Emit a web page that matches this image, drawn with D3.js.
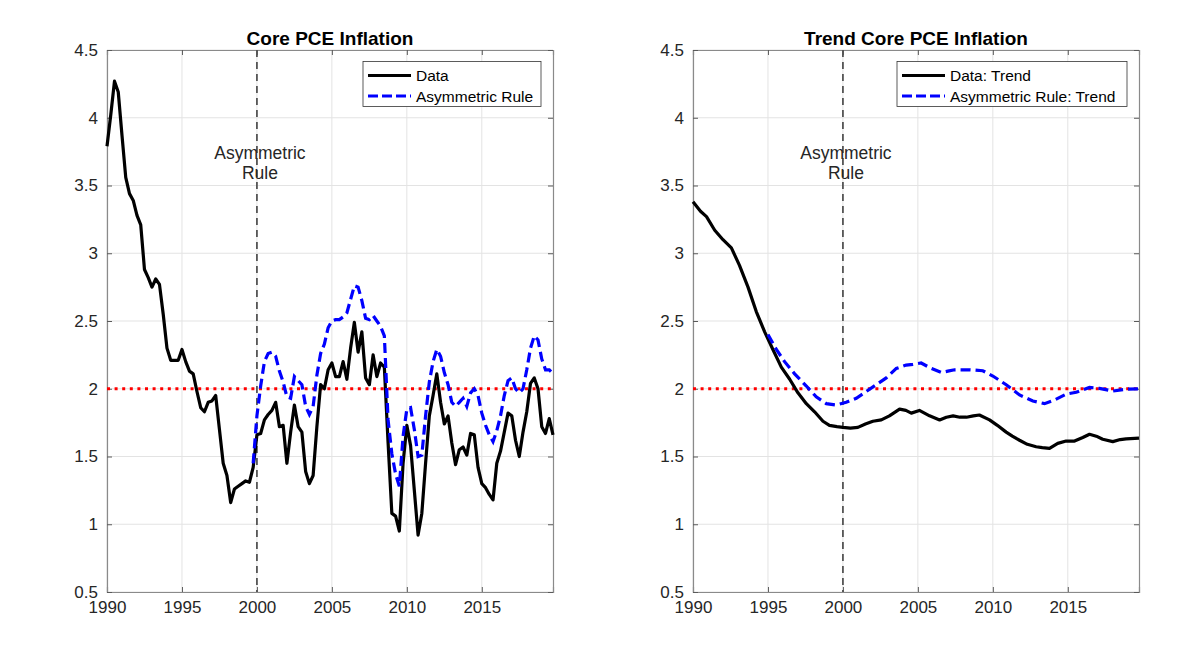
<!DOCTYPE html>
<html>
<head>
<meta charset="utf-8">
<script src="https://cdn.jsdelivr.net/npm/d3@7"></script>
<style>
  body { margin: 0; background: #fff; }
  svg text { font-family: "Liberation Sans", Arial, sans-serif; }
</style>
</head>
<body>
<div id="chart"></div>
<script>
// ---- data ----
// left panel: quarterly core PCE inflation
const coreYears = [
  1990.0,1990.25,1990.5,1990.75,1991.0,1991.25,1991.5,1991.75,1992.0,1992.25,1992.5,1992.75,
  1993.0,1993.25,1993.5,1993.75,1994.0,1994.25,1994.5,1994.75,1995.0,1995.25,1995.5,1995.75,
  1996.0,1996.25,1996.5,1996.75,1997.0,1997.25,1997.5,1997.75,1998.0,1998.25,1998.5,1998.75,
  1999.0,1999.25,1999.5,1999.75,2000.0,2000.25,2000.5,2000.75,2001.0,2001.25,2001.5,2001.75,
  2002.0,2002.25,2002.5,2002.75,2003.0,2003.25,2003.5,2003.75,2004.0,2004.25,2004.5,2004.75,
  2005.0,2005.25,2005.5,2005.75,2006.0,2006.25,2006.5,2006.75,2007.0,2007.25,2007.5,2007.75,
  2008.0,2008.25,2008.5,2008.75,2009.0,2009.25,2009.5,2009.75,2010.0,2010.25,2010.5,2010.75,
  2011.0,2011.25,2011.5,2011.75,2012.0,2012.25,2012.5,2012.75,2013.0,2013.25,2013.5,2013.75,
  2014.0,2014.25,2014.5,2014.75,2015.0,2015.25,2015.5,2015.75,2016.0,2016.25,2016.5,2016.75,
  2017.0,2017.25,2017.5,2017.75,2018.0,2018.25,2018.5,2018.75,2019.0,2019.25,2019.5,2019.75
];
const coreData = [
  3.79,4.02,4.27,4.19,3.87,3.56,3.44,3.39,3.28,3.21,2.88,2.82,
  2.75,2.81,2.77,2.55,2.30,2.21,2.21,2.21,2.29,2.20,2.13,2.11,
  1.98,1.86,1.83,1.90,1.91,1.95,1.70,1.45,1.36,1.16,1.26,1.28,
  1.30,1.32,1.31,1.42,1.66,1.67,1.77,1.81,1.84,1.90,1.72,1.73,
  1.45,1.68,1.88,1.72,1.68,1.39,1.30,1.36,1.72,2.03,2.00,2.14,
  2.19,2.09,2.09,2.20,2.07,2.30,2.49,2.27,2.42,2.08,2.03,2.25,
  2.09,2.19,2.16,1.60,1.08,1.06,0.95,1.45,1.73,1.58,1.25,0.92,
  1.08,1.45,1.80,1.95,2.11,1.90,1.74,1.80,1.60,1.44,1.55,1.57,
  1.51,1.67,1.66,1.42,1.30,1.27,1.22,1.18,1.45,1.54,1.68,1.82,
  1.80,1.62,1.50,1.68,1.83,2.04,2.08,2.00,1.72,1.67,1.78,1.66
];
const ruleYears = coreYears.slice(39);   // counterfactual starts late 1999
const ruleData = [
  1.45,1.80,2.02,2.20,2.26,2.27,2.24,2.13,2.05,
  1.94,1.93,2.09,2.06,2.03,1.87,1.81,1.87,2.10,2.26,2.33,2.45,
  2.50,2.51,2.51,2.53,2.56,2.66,2.76,2.75,2.65,2.52,2.51,2.54,
  2.50,2.46,2.39,1.77,1.52,1.37,1.28,1.65,1.85,1.86,1.70,1.50,
  1.51,1.80,2.05,2.20,2.29,2.24,2.12,2.03,1.90,1.87,1.90,1.93,
  1.87,1.97,2.00,1.95,1.82,1.73,1.66,1.61,1.69,1.80,1.95,2.06,
  2.08,2.00,1.97,2.00,2.14,2.30,2.39,2.36,2.22,2.14,2.14,2.11
];

// right panel: trends
const trendYears = [
  1990.0,1990.5,1990.9,1991.45,1992.0,1992.56,1993.1,1993.67,1994.22,1994.78,1995.33,1995.89,
  1996.45,1997.0,1997.56,1998.11,1998.67,1999.1,1999.6,2000.0,2000.5,2001.0,2001.5,2002.0,
  2002.56,2003.1,2003.78,2004.2,2004.56,2005.1,2005.78,2006.45,2006.9,2007.35,2007.8,2008.24,
  2008.7,2009.1,2009.78,2010.3,2010.89,2011.3,2011.78,2012.3,2012.89,2013.3,2013.78,2014.33,
  2014.89,2015.45,2016.0,2016.45,2016.9,2017.33,2018.0,2018.5,2018.89,2019.75
];
const trendData = [
  3.38,3.31,3.27,3.17,3.10,3.04,2.91,2.75,2.57,2.42,2.29,2.16,
  2.07,1.97,1.89,1.83,1.76,1.73,1.72,1.715,1.71,1.715,1.74,1.76,
  1.77,1.80,1.85,1.84,1.82,1.84,1.80,1.77,1.79,1.80,1.79,1.79,
  1.80,1.806,1.77,1.73,1.68,1.65,1.62,1.59,1.572,1.565,1.56,1.597,
  1.614,1.614,1.64,1.664,1.65,1.627,1.61,1.625,1.63,1.635
];
const ruleTrendYears = [
  1995.0,1995.56,1996.11,1996.78,1997.56,1998.22,1998.89,1999.56,2000.22,2000.89,2001.56,2002.22,
  2002.89,2003.56,2004.22,2004.67,2005.22,2005.89,2006.56,2007.0,2007.45,2008.45,2009.33,2010.0,
  2010.89,2011.78,2012.67,2013.45,2014.11,2014.89,2015.56,2016.45,2017.11,2018.0,2018.89,2019.75
];
const ruleTrendData = [
  2.40,2.29,2.20,2.11,2.02,1.94,1.89,1.88,1.90,1.93,1.98,2.03,
  2.08,2.15,2.175,2.18,2.19,2.15,2.12,2.13,2.14,2.14,2.133,2.094,
  2.03,1.954,1.91,1.89,1.917,1.96,1.974,2.01,2.003,1.983,1.996,2.00
];

const xTicks = [1990, 1995, 2000, 2005, 2010, 2015];
const yTicks = [0.5, 1, 1.5, 2, 2.5, 3, 3.5, 4, 4.5];
const targetRate = 2;
const ruleStart = 2000;

const W = 1200, H = 666;
const svg = d3.select("#chart").append("svg")
    .attr("width", W)
    .attr("height", H)
    .style("background", "#fff");

const plotTop = 50, plotBottom = 592;

function drawPanel(left, right, title, black, blue, labels) {
    const x = d3.scaleLinear().domain([1990, 2019.75]).range([left, right]);
    const y = d3.scaleLinear().domain([0.5, 4.5]).range([plotBottom, plotTop]);
    const g = svg.append("g");

    // grid
    g.selectAll(".gx").data(xTicks).enter().append("line")
        .attr("x1", d => x(d)).attr("x2", d => x(d))
        .attr("y1", plotTop).attr("y2", plotBottom)
        .attr("stroke", "#e3e3e3").attr("stroke-width", 1);
    g.selectAll(".gy").data(yTicks).enter().append("line")
        .attr("y1", d => y(d)).attr("y2", d => y(d))
        .attr("x1", left).attr("x2", right)
        .attr("stroke", "#e3e3e3").attr("stroke-width", 1);

    // axes (ticks inside, box all round)
    const axB = d3.axisBottom(x).tickValues(xTicks).tickFormat(d3.format("d")).tickSize(-5).tickPadding(9);
    const axT = d3.axisTop(x).tickValues(xTicks).tickFormat("").tickSize(-5);
    const axL = d3.axisLeft(y).tickValues(yTicks).tickFormat(d => d3.format("")(d)).tickSize(-5).tickPadding(9);
    const axR = d3.axisRight(y).tickValues(yTicks).tickFormat("").tickSize(-5);
    [[axB, `translate(0,${plotBottom})`], [axT, `translate(0,${plotTop})`],
     [axL, `translate(${left},0)`], [axR, `translate(${right},0)`]].forEach(([ax, tr]) => {
        const a = g.append("g").attr("transform", tr).call(ax);
        a.select(".domain").attr("stroke", "#8a8a8a").attr("stroke-width", 1.2);
        a.selectAll(".tick line").attr("stroke", "#5a5a5a");
        a.selectAll("text").attr("fill", "#262626").style("font-size", "17px");
    });

    // title
    g.append("text")
        .attr("x", (left + right) / 2).attr("y", 45)
        .attr("text-anchor", "middle")
        .style("font-size", "19px").style("font-weight", "bold")
        .attr("fill", "#000")
        .text(title);

    // 2% target and rule start
    g.append("line")
        .attr("x1", left).attr("x2", right)
        .attr("y1", y(targetRate)).attr("y2", y(targetRate))
        .attr("stroke", "#ff0000").attr("stroke-width", 3.2)
        .attr("stroke-dasharray", "3,4.6");
    g.append("line")
        .attr("x1", x(ruleStart)).attr("x2", x(ruleStart))
        .attr("y1", plotTop).attr("y2", plotBottom)
        .attr("stroke", "#555").attr("stroke-width", 1.8)
        .attr("stroke-dasharray", "7,5");
    const note = g.append("text")
        .attr("text-anchor", "middle")
        .style("font-size", "17.5px").attr("fill", "#262626");
    note.append("tspan").attr("x", x(ruleStart) + 3).attr("y", 159).text("Asymmetric");
    note.append("tspan").attr("x", x(ruleStart) + 3).attr("y", 179).text("Rule");

    // series
    const line = d3.line().x(d => x(d[0])).y(d => y(d[1]));
    g.append("path")
        .datum(d3.zip(black[0], black[1]))
        .attr("d", line)
        .attr("fill", "none").attr("stroke", "#000").attr("stroke-width", 3.2)
        .attr("stroke-linejoin", "round");
    g.append("path")
        .datum(d3.zip(blue[0], blue[1]))
        .attr("d", line)
        .attr("fill", "none").attr("stroke", "#0000ff").attr("stroke-width", 3.2)
        .attr("stroke-dasharray", "10,5");

    // legend
    const lw = labels.w, lx = right - 12 - lw;
    const lg = g.append("g");
    lg.append("rect")
        .attr("x", lx).attr("y", 61.5).attr("width", lw).attr("height", 45)
        .attr("fill", "#fff").attr("stroke", "#333").attr("stroke-width", 0.8);
    [["#000", null, labels.a, 75.5], ["#0000ff", "10,4", labels.b, 96]].forEach(([c, dash, t, ly]) => {
        lg.append("line")
            .attr("x1", lx + 5).attr("x2", lx + 48)
            .attr("y1", ly).attr("y2", ly)
            .attr("stroke", c).attr("stroke-width", 3.2)
            .attr("stroke-dasharray", dash);
        lg.append("text")
            .attr("x", lx + 53).attr("y", ly + 5.5)
            .style("font-size", "15.5px").attr("fill", "#000")
            .text(t);
    });
}

drawPanel(107, 553, "Core PCE Inflation",
    [coreYears, coreData], [ruleYears, ruleData],
    { a: "Data", b: "Asymmetric Rule", w: 178 });
drawPanel(693, 1139, "Trend Core PCE Inflation",
    [trendYears, trendData], [ruleTrendYears, ruleTrendData],
    { a: "Data: Trend", b: "Asymmetric Rule: Trend", w: 230 });
</script>
</body>
</html>
